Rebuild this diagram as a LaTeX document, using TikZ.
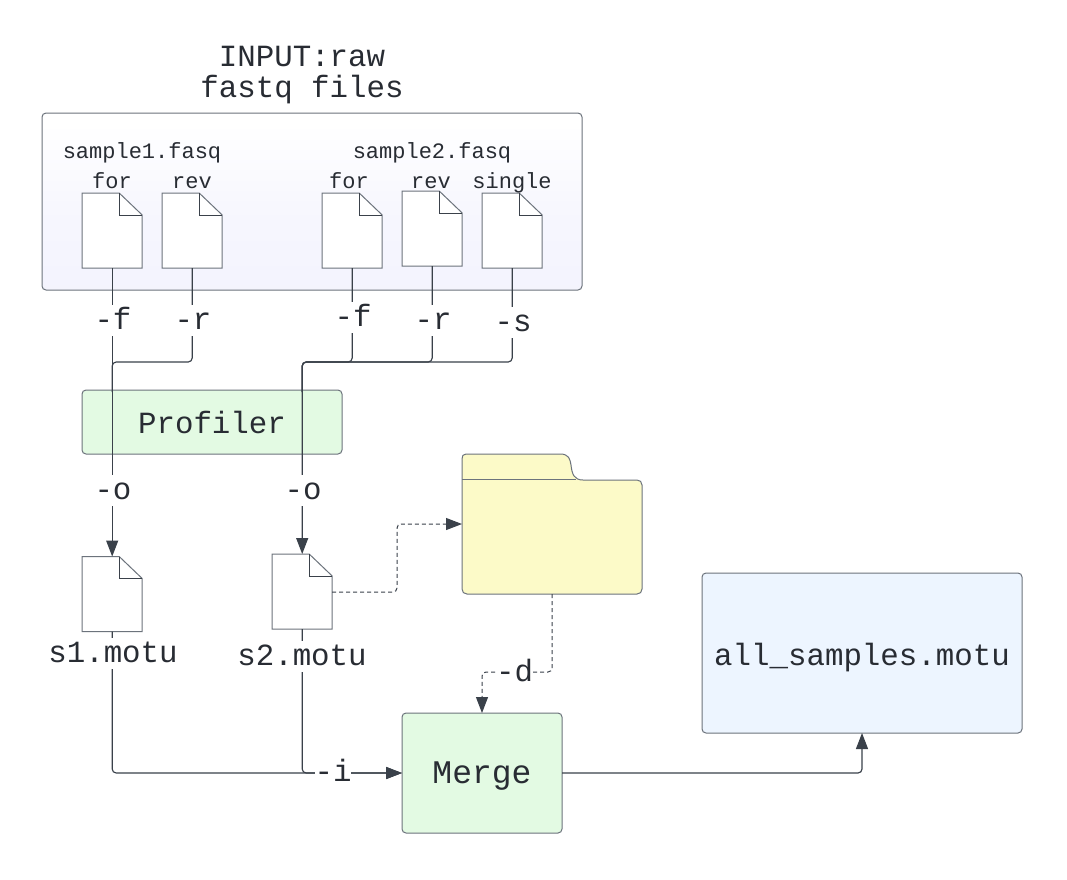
\documentclass[tikz,border=0pt]{standalone}
\usepackage{fontspec}
\setmainfont{Liberation Mono}
\usetikzlibrary{arrows.meta,calc}
\definecolor{inkc}{HTML}{282C33}
\definecolor{linec}{HTML}{3A414A}
\definecolor{edgec}{HTML}{6C737C}
\definecolor{greenc}{HTML}{E3FAE3}
\definecolor{yellowc}{HTML}{FCFAC8}
\definecolor{bluec}{HTML}{EDF5FF}
\definecolor{panelb}{HTML}{F0F0FD}
\pgfdeclareverticalshading{panelshade}{100bp}{color(0bp)=(panelb); color(48bp)=(panelb!55!white); color(72bp)=(white); color(100bp)=(white)}
\tikzset{
  x=1pt,y=-1pt,
  boxnode/.style={draw=edgec,line width=1pt,rounded corners=4pt,inner sep=0pt,outer sep=0pt,text=inkc,align=center},
  docnode/.style={minimum width=60pt,minimum height=75pt,inner sep=0pt,outer sep=0pt},
  docline/.style={draw=edgec,line width=1pt,line join=miter},
  conn/.style={draw=linec,line width=1.15pt,rounded corners=4pt},
  arrowed/.style={-{Triangle[length=16pt,width=12pt,fill=linec]}},
  dashconn/.style={conn,line width=1pt,dash pattern=on 4pt off 3pt},
  biglab/.style={font=\fontsize{30.8pt}{33pt}\selectfont,text=inkc,fill=white,inner xsep=0pt,inner ysep=0pt,minimum height=31pt,text height=23pt,text depth=4pt},
  smalllab/.style={font=\fontsize{22pt}{24pt}\selectfont,text=inkc,inner sep=0pt,text height=16pt,text depth=5pt},
}
\newcommand{\docfile}[3]{%
  \node[docnode] (#1) at (#2,#3) {};
  \draw[docline,fill=white] (#1.north west) -- ++(37,0) -- ++(23,22) |- (#1.south west) -- cycle;
  \draw[docline,draw=linec] ($(#1.north west)+(37,0)$) -- ++(0,22) -- ++(23,0);
}
\begin{document}
\begin{tikzpicture}
\useasboundingbox (0,0) rectangle (1067,879);
\fill[white] (0,0) rectangle (1067,879);
% containers
\node[boxnode,shading=panelshade,minimum width=540pt,minimum height=177pt] (panel) at (312,201.5) {};
\node[font=\fontsize{30.8pt}{31.5pt}\selectfont,text=inkc,align=center,inner sep=0pt] (title) at (302,75) {INPUT:raw\\fastq files};
\node[boxnode,fill=greenc,minimum width=260pt,minimum height=64pt,font=\fontsize{30.8pt}{33pt}\selectfont,text height=25pt,text depth=3pt] (profiler) at (212,422) {Profiler};
\node[boxnode,fill=greenc,minimum width=160pt,minimum height=120pt,font=\fontsize{33pt}{35pt}\selectfont,text height=24pt,text depth=4pt] (merge) at (482,773) {Merge};
\node[boxnode,fill=bluec,minimum width=320pt,minimum height=160pt,font=\fontsize{30.8pt}{33pt}\selectfont,text height=26pt,text depth=2pt] (all) at (862,653) {all\_samples.motu};
% folder
\coordinate (folder) at (552,524);
\draw[draw=edgec,fill=yellowc,line width=1pt] (466,454) -- (560,454) .. controls (569,454) and (570,459) .. (571,465) .. controls (572,474) and (574,480) .. (583,480) -- (637,480) .. controls (640,480) and (642,482) .. (642,485) -- (642,589) .. controls (642,592) and (640,594) .. (637,594) -- (467,594) .. controls (464,594) and (462,592) .. (462,589) -- (462,459) .. controls (462,456) and (463,454) .. (466,454) -- cycle;
\draw[draw=edgec,line width=1pt] (462,479.5) -- (576,479.5);
\coordinate (folderw) at (462,524);
\coordinate (folders) at (552,594);
% files
\docfile{ffor}{112.2}{230.5}
\docfile{frev}{192.2}{230.5}
\docfile{gfor}{352.2}{230.5}
\docfile{grev}{432.2}{228.5}
\docfile{gsin}{512.2}{230.5}
\docfile{sone}{112.2}{594}
\docfile{stwo}{302.2}{591.5}
% junctions
\coordinate (ja) at (192.2,362);
\coordinate (jb) at (352.2,362);
\coordinate (jc) at (432.2,362);
\coordinate (jd) at (512.2,362);
\coordinate (je) at (302.2,362);
\coordinate (jf) at (112.2,362);
% connectors
\draw[conn,arrowed] (ffor.south) -- (sone.north);
\draw[conn] (frev.south) -- (ja) -- (jf) -- ++(0,30);
\draw[conn,arrowed] (gfor.south) -- (jb) -- (je) -- (stwo.north);
\draw[conn] (grev.south) -- (jc) -- (je) -- ++(0,30);
\draw[conn] (gsin.south) -- (jd) -- (je) -- ++(0,30);
\draw[conn,arrowed] (sone.south) |- (merge.west);
\draw[conn,arrowed] (stwo.south) |- (merge.west);
\draw[conn,arrowed] (merge.east) -| (all.south);
\draw[dashconn,arrowed] (stwo.east |- 0,592) -- (397,592) -- (397,524) -- (folderw);
\draw[dashconn,arrowed] (folders) -- (552,672) -- (482,672) -- (merge.north);
% labels
\node[smalllab] (nsa) at (142,153) {sample1.fasq};
\node[smalllab] (nsb) at (432,153) {sample2.fasq};
\node[smalllab] (nfa) at (112,183) {for};
\node[smalllab] (nra) at (192,183) {rev};
\node[smalllab] (nfb) at (349,183) {for};
\node[smalllab] (nrb) at (431,183) {rev};
\node[smalllab] (nsi) at (512,183) {single};
\node[biglab] (lfa) at (113,320) {-f};
\node[biglab] (lra) at (193,320) {-r};
\node[biglab] (lfb) at (353,317) {-f};
\node[biglab] (lrb) at (433,320) {-r};
\node[biglab] (lsb) at (513,322) {-s};
\node[biglab] (loa) at (113,490) {-o};
\node[biglab] (lob) at (303,490) {-o};
\node[biglab] (lma) at (113,653) {s1.motu};
\node[biglab] (lmb) at (302,656) {s2.motu};
\node[biglab] (li) at (333,772) {-i};
\node[biglab] (ld) at (514.5,672) {-d};
\end{tikzpicture}
\end{document}
